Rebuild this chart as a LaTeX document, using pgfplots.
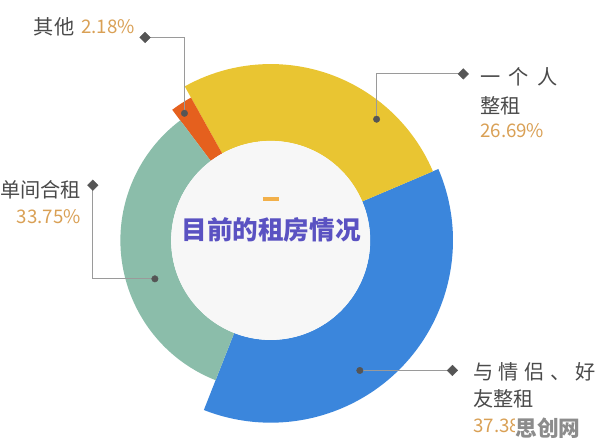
\documentclass[border=0pt]{standalone}
\usepackage{pgfplots}
\usepackage{pgfplotstable}
\pgfplotsset{compat=1.18}
\usepackage{fontspec}
\setmainfont{Noto Sans CJK SC}
\definecolor{cyellow}{HTML}{E9C532}
\definecolor{cblue}{HTML}{3B86DC}
\definecolor{cgreen}{HTML}{8BBDAA}
\definecolor{corange}{HTML}{E5601E}
\definecolor{cinner}{HTML}{F7F7F7}
\definecolor{ctitle}{HTML}{5A52C2}
\definecolor{cdash}{HTML}{F2B04A}
\definecolor{ctext}{HTML}{4A4A4A}
\definecolor{cpct}{HTML}{D9A055}
\definecolor{cline}{HTML}{9A9A9A}
\definecolor{cmark}{HTML}{555555}
\definecolor{cwm}{HTML}{8C8C8C}

% ring data: share (%) and outer radius (px), counter-clockwise from -111.5 deg
\pgfplotstableread{
label value radius
blue 37.38 185
yellow 26.69 179
orange 2.18 166
green 33.75 152.5
}\ringdata

\newcommand{\lbl}{\fontsize{20.5}{23}\selectfont\color{ctext}}
\newcommand{\pct}{\fontsize{19}{22}\selectfont\color{cpct}}

\begin{document}
\begin{tikzpicture}
\pgfplotstablegetelem{0}{value}\of\ringdata \let\vA\pgfplotsretval
\pgfplotstablegetelem{1}{value}\of\ringdata \let\vB\pgfplotsretval
\pgfplotstablegetelem{2}{value}\of\ringdata \let\vC\pgfplotsretval
\pgfplotstablegetelem{3}{value}\of\ringdata \let\vD\pgfplotsretval
\pgfplotstablegetelem{0}{radius}\of\ringdata \let\rA\pgfplotsretval
\pgfplotstablegetelem{1}{radius}\of\ringdata \let\rB\pgfplotsretval
\pgfplotstablegetelem{2}{radius}\of\ringdata \let\rC\pgfplotsretval
\pgfplotstablegetelem{3}{radius}\of\ringdata \let\rD\pgfplotsretval
\pgfmathsetmacro{\aO}{-111.5}
\pgfmathsetmacro{\aA}{\aO+3.6*\vA}
\pgfmathsetmacro{\aB}{\aA+3.6*\vB}
\pgfmathsetmacro{\aC}{\aB+3.6*\vC}
\pgfmathsetmacro{\aD}{\aC+3.6*\vD}
\def\rin{101}
\begin{axis}[
  x=1pt, y=1pt, scale only axis,
  xmin=-272.5, xmax=323.5, ymin=-209, ymax=244,
  hide axis, clip=false,
]
\path (axis cs:-272.5,-209) rectangle (axis cs:323.5,244);
% ring sectors
\fill[cblue] (axis cs:{\rin*cos(\aO)},{\rin*sin(\aO)}) arc[start angle=\aO, end angle=\aA, radius=\rin]
  -- (axis cs:{\rA*cos(\aA)},{\rA*sin(\aA)}) arc[start angle=\aA, end angle=\aO, radius=\rA] -- cycle;
\fill[cyellow] (axis cs:{\rin*cos(\aA)},{\rin*sin(\aA)}) arc[start angle=\aA, end angle=\aB, radius=\rin]
  -- (axis cs:{\rB*cos(\aB)},{\rB*sin(\aB)}) arc[start angle=\aB, end angle=\aA, radius=\rB] -- cycle;
\fill[corange] (axis cs:{\rin*cos(\aB)},{\rin*sin(\aB)}) arc[start angle=\aB, end angle=\aC, radius=\rin]
  -- (axis cs:{\rC*cos(\aC)},{\rC*sin(\aC)}) arc[start angle=\aC, end angle=\aB, radius=\rC] -- cycle;
\fill[cgreen] (axis cs:{\rin*cos(\aC)},{\rin*sin(\aC)}) arc[start angle=\aC, end angle=\aD, radius=\rin]
  -- (axis cs:{\rD*cos(\aD)},{\rD*sin(\aD)}) arc[start angle=\aD, end angle=\aC, radius=\rD] -- cycle;
\fill[cinner] (axis cs:0,0) circle[radius=\rin];

% leader lines
\addplot[cline, line width=0.8pt, mark=none] coordinates {(-127.5,206) (-87.5,206) (-87.5,129)};
\addplot[cline, line width=0.8pt, mark=none] coordinates {(195.5,169) (107.5,169) (107.5,123)};
\addplot[cline, line width=0.8pt, mark=none] coordinates {(-180.5,56) (-180.5,-39) (-117.5,-39)};
\addplot[cline, line width=0.8pt, mark=none] coordinates {(184.5,-132) (90.5,-132)};
% diamonds
\addplot[only marks, mark=square*, mark size=3.8pt, mark options={rotate=45, fill=cmark, draw=cmark}]
  coordinates {(-127.5,206) (195.5,169) (-180.5,56) (184.5,-132)};
% dots
\addplot[only marks, mark=*, mark size=3.3pt, mark options={fill=cmark, draw=cmark}]
  coordinates {(-87.5,129) (107.5,123) (-117.5,-39) (90.5,-132)};

% center title
\addplot[cdash, line width=3.5pt, mark=none] coordinates {(-8,42) (8,42)};
\node[font=\fontsize{26}{28}\selectfont\bfseries, text=ctitle] at (axis cs:0.5,11) {目前的租房情况};

% labels
\node[anchor=west, inner sep=0pt] at (axis cs:-240.5,217) {\lbl 其他};
\node[anchor=west, inner sep=0pt] at (axis cs:-192.5,217) {\pct 2.18\%};
\node[anchor=west, inner sep=0pt] at (axis cs:212.5,166) {\lbl 一\hspace{8.5pt}个\hspace{8.5pt}人};
\node[anchor=west, inner sep=0pt] at (axis cs:212.5,137) {\lbl 整租};
\node[anchor=west, inner sep=0pt] at (axis cs:212.5,111) {\pct 26.69\%};
\node[anchor=east, inner sep=0pt] at (axis cs:-192.5,51) {\lbl 单间合租};
\node[anchor=east, inner sep=0pt] at (axis cs:-192.5,24) {\pct 33.75\%};
\node[anchor=west, inner sep=0pt] at (axis cs:205.5,-133) {\lbl 与\hspace{5.5pt}情\hspace{5.5pt}侣\hspace{5.5pt}、\hspace{5.5pt}好};
\node[anchor=west, inner sep=0pt] at (axis cs:205.5,-161) {\lbl 友整租};
\node[anchor=west, inner sep=0pt] at (axis cs:205.5,-188) {\pct 37.38\%};
% watermark
\node[anchor=center, fill=white, inner sep=1pt, text=cwm, font=\fontsize{22}{24}\selectfont\bfseries] at (axis cs:281.5,-191) {思创网};
\end{axis}
\end{tikzpicture}
\end{document}
